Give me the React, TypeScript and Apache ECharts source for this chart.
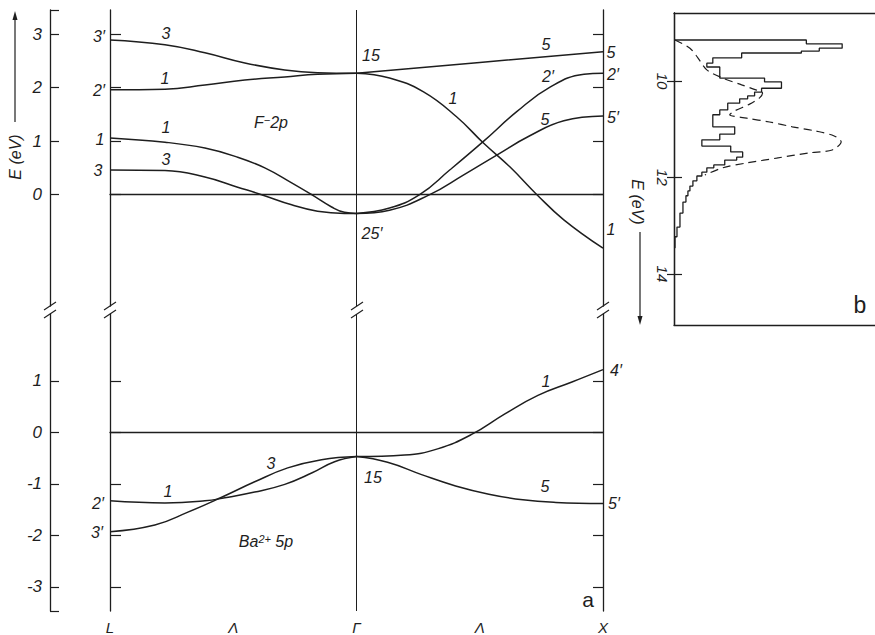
import React, { useEffect, useRef } from "react";
import * as echarts from "echarts";

// ---- axis ticks / labels ----
const kTicks = [0, 0.5, 1, 1.5, 2];
const kNames = ["L", "Λ", "Γ", "Λ", "X"];
const upperTicks = [0, 1, 2, 3];
const lowerTicks = [-3, -2, -1, 0, 1];
const specTicks = [10, 12, 14];

// ---- F- 2p bands (upper panel), k: L=0, Γ=1, X=2 ; E in eV ----
const bandA_k = [0, 0.223, 0.385, 0.547, 0.709, 0.842, 1];
const bandA_E = [2.89, 2.8, 2.65, 2.46, 2.33, 2.28, 2.27];
const bandB_k = [0, 0.223, 0.385, 0.547, 0.709, 0.842, 1];
const bandB_E = [1.96, 1.97, 2.05, 2.14, 2.2, 2.25, 2.27];
const bandC_k = [0, 0.223, 0.385, 0.518, 0.628, 0.737, 0.818, 0.899, 0.951, 1];
const bandC_E = [1.06, 0.98, 0.87, 0.7, 0.5, 0.22, 0.0, -0.23, -0.33, -0.35];
const bandD_k = [0, 0.223, 0.385, 0.518, 0.615, 0.737, 0.842, 0.951, 1];
const bandD_E = [0.46, 0.45, 0.33, 0.14, 0.0, -0.19, -0.31, -0.35, -0.35];
const bandE_k = [1, 1.5, 2];
const bandE_E = [2.27, 2.47, 2.67];
const bandF_k = [1, 1.134, 1.272, 1.407, 1.516, 1.622, 1.732, 1.841, 2];
const bandF_E = [2.27, 2.18, 1.92, 1.45, 0.96, 0.52, 0.0, -0.47, -1.0];
const bandG_k = [1, 1.134, 1.256, 1.378, 1.516, 1.65, 1.785, 1.923, 2];
const bandG_E = [-0.35, -0.25, 0.0, 0.46, 1.0, 1.55, 2.01, 2.25, 2.27];
const bandH_k = [1, 1.134, 1.297, 1.435, 1.569, 1.703, 1.841, 2];
const bandH_E = [-0.35, -0.29, 0.0, 0.37, 0.74, 1.1, 1.38, 1.47];

// ---- Ba2+ 5p bands (lower panel) ----
const bandI_k = [0, 0.223, 0.385, 0.466, 0.587, 0.709, 0.818, 0.911, 1];
const bandI_E = [-1.33, -1.37, -1.33, -1.27, -1.16, -1.01, -0.79, -0.57, -0.47];
const bandJ_k = [0, 0.182, 0.316, 0.453, 0.587, 0.721, 0.858, 1];
const bandJ_E = [-1.93, -1.8, -1.55, -1.26, -0.96, -0.69, -0.53, -0.47];
const bandK_k = [1, 1.195, 1.329, 1.467, 1.602, 1.736, 1.874, 2];
const bandK_E = [-0.47, -0.44, -0.32, -0.04, 0.36, 0.72, 0.98, 1.22];
const bandL_k = [1, 1.126, 1.264, 1.402, 1.537, 1.675, 1.809, 2];
const bandL_E = [-0.47, -0.58, -0.82, -1.04, -1.2, -1.31, -1.36, -1.38];

// ---- panel b: histogram (bin edges in eV, intensities) ----
const histEdges = [9.15, 9.23, 9.32, 9.38, 9.42, 9.52, 9.63, 9.71, 9.94, 10.02, 10.15, 10.23, 10.31, 10.37, 10.46, 10.6, 10.7, 10.81, 10.95, 11.1, 11.22, 11.35, 11.47, 11.58, 11.64, 11.74, 11.8, 11.89, 11.97, 12.07, 12.18, 12.28, 12.38, 12.51, 12.74, 13.03, 13.23, 13.46];
const histCounts = [1.33, 1.69, 1.46, 1.28, 0.68, 0.39, 0.33, 0.46, 0.91, 1.08, 0.88, 0.81, 0.74, 0.66, 0.54, 0.46, 0.39, 0.39, 0.61, 0.46, 0.28, 0.57, 0.69, 0.63, 0.51, 0.4, 0.33, 0.28, 0.23, 0.19, 0.16, 0.14, 0.12, 0.09, 0.06, 0.03, 0.01];
// dashed calculated curve
const dashI = [0.01, 0.16, 0.24, 0.33, 0.49, 0.68, 0.83, 0.89, 0.86, 0.76, 0.61, 0.56, 0.73, 0.96, 1.19, 1.43, 1.61, 1.68, 1.59, 1.36, 1.03, 0.73, 0.49, 0.31];
const dashE = [9.15, 9.32, 9.52, 9.77, 9.94, 10.08, 10.19, 10.25, 10.35, 10.48, 10.62, 10.7, 10.77, 10.85, 10.95, 11.04, 11.14, 11.26, 11.43, 11.49, 11.6, 11.7, 11.8, 11.95];

const FONT = "'Liberation Sans Narrow', 'Liberation Sans', 'DejaVu Sans', sans-serif";
const INK = "#1e1e1e";

const pts = (k: number[], e: number[]) => k.map((v, i) => [v, e[i]]);

function histPoints() {
  const out: number[][] = [[0, histEdges[0]]];
  histCounts.forEach((c, i) => {
    out.push([c, histEdges[i]]);
    out.push([c, histEdges[i + 1]]);
  });
  out.push([0, histEdges[histEdges.length - 1]]);
  return out;
}

const fnt = (size: number, italic = true) => `${italic ? "italic" : "normal"} ${size}px ${FONT}`;

const txt = (text: string, x: number, y: number, size = 16, extra: any = {}) => ({
  type: "text",
  x,
  y,
  silent: true,
  rotation: extra.rotation || 0,
  style: {
    text,
    fill: INK,
    font: fnt(size, extra.italic !== false),
    textAlign: "center",
    textVerticalAlign: "middle",
    ...(extra.rich ? { rich: extra.rich } : {}),
  },
});

const supRich = {
  m: { font: fnt(16), fill: INK, verticalAlign: "bottom" },
  s: { font: fnt(11), fill: INK, verticalAlign: "top" },
};

const ln = (x1: number, y1: number, x2: number, y2: number, w = 1.2) => ({
  type: "line",
  silent: true,
  shape: { x1, y1, x2, y2 },
  style: { stroke: INK, lineWidth: w },
});

export default function App() {
  const ref = useRef<HTMLDivElement>(null);
  useEffect(() => {
    if (!ref.current) return;
    const chart = echarts.init(ref.current, null, { renderer: "svg" });

    const bandStyle = { color: INK, width: 1.5 };
    const band = (k: number[], e: number[], lower: boolean, smooth: number | boolean = 0.45) => ({
      type: "line",
      xAxisIndex: lower ? 1 : 0,
      yAxisIndex: lower ? 3 : 0,
      data: pts(k, e),
      smooth,
      symbol: "none",
      silent: true,
      lineStyle: bandStyle,
    });
    const refLines = {
      silent: true,
      symbol: ["none", "none"],
      label: { show: false },
      lineStyle: { color: INK, width: 1, type: "solid" },
      data: [{ xAxis: 1 }, { yAxis: 0 }],
    };

    const axisLine = { show: true, lineStyle: { color: INK, width: 1.3 } };
    const labelFont = { fontFamily: FONT, fontStyle: "italic", fontSize: 17, color: INK };

    const UMIN = -2.08, UMAX = 3.45, LMIN = -3.47, LMAX = 2.3;

    const breaks: any[] = [];
    [50, 110, 357, 603].forEach((x0) => {
      [306, 314].forEach((y0) => breaks.push(ln(x0 - 6, y0 + 4, x0 + 6, y0 - 4, 1.2)));
    });

    const option: any = {
      animation: false,
      backgroundColor: "#ffffff",
      grid: [
        { left: 110, top: 10, width: 493, height: 296 },
        { left: 110, top: 314, width: 493, height: 298 },
        { left: 674, top: 13, width: 202, height: 312 },
      ],
      xAxis: [
        { gridIndex: 0, type: "value", min: 0, max: 2, position: "top", axisLine, axisTick: { show: false }, axisLabel: { show: false }, splitLine: { show: false } },
        {
          gridIndex: 1, type: "value", min: 0, max: 2, position: "bottom", axisLine,
          axisTick: { show: false }, splitLine: { show: false },
          axisLabel: {
            customValues: kTicks, margin: 9, ...labelFont, fontSize: 15,
            formatter: (v: number) => kNames[kTicks.indexOf(v)] ?? "",
          },
        },
        { gridIndex: 2, type: "value", min: 0, max: 2.02, position: "top", axisLine, axisTick: { show: false }, axisLabel: { show: false }, splitLine: { show: false } },
        { gridIndex: 2, type: "value", min: 0, max: 2.02, position: "bottom", axisLine, axisTick: { show: false }, axisLabel: { show: false }, splitLine: { show: false } },
      ],
      yAxis: [
        { gridIndex: 0, type: "value", min: UMIN, max: UMAX, position: "left", axisLine, splitLine: { show: false }, axisLabel: { show: false }, axisTick: { inside: true, length: 11, customValues: upperTicks, lineStyle: { color: INK, width: 1.2 } } },
        { gridIndex: 0, type: "value", min: UMIN, max: UMAX, position: "right", axisLine, splitLine: { show: false }, axisLabel: { show: false }, axisTick: { inside: true, length: 10, customValues: upperTicks, lineStyle: { color: INK, width: 1.2 } } },
        { gridIndex: 0, type: "value", min: UMIN, max: UMAX, position: "left", offset: 60, axisLine, splitLine: { show: false },
          axisTick: { inside: true, length: 9, customValues: [...upperTicks, UMAX], lineStyle: { color: INK, width: 1.2 } },
          axisLabel: { customValues: upperTicks, margin: 8, ...labelFont } },
        { gridIndex: 1, type: "value", min: LMIN, max: LMAX, position: "left", axisLine, splitLine: { show: false }, axisLabel: { show: false }, axisTick: { inside: true, length: 11, customValues: lowerTicks, lineStyle: { color: INK, width: 1.2 } } },
        { gridIndex: 1, type: "value", min: LMIN, max: LMAX, position: "right", axisLine, splitLine: { show: false }, axisLabel: { show: false }, axisTick: { inside: true, length: 10, customValues: lowerTicks, lineStyle: { color: INK, width: 1.2 } } },
        { gridIndex: 1, type: "value", min: LMIN, max: LMAX, position: "left", offset: 60, axisLine, splitLine: { show: false },
          axisTick: { inside: true, length: 9, customValues: [...lowerTicks, LMIN], lineStyle: { color: INK, width: 1.2 } },
          axisLabel: { customValues: lowerTicks, margin: 8, ...labelFont } },
        { gridIndex: 2, type: "value", inverse: true, min: 8.59, max: 15.06, position: "left", axisLine, splitLine: { show: false },
          axisTick: { inside: true, length: 8, customValues: specTicks, lineStyle: { color: INK, width: 1.2 } },
          axisLabel: { customValues: specTicks, rotate: -90, margin: 4, ...labelFont, fontSize: 15 } },
        { gridIndex: 2, type: "value", inverse: true, min: 8.59, max: 15.06, position: "right", axisLine, splitLine: { show: false }, axisLabel: { show: false },
          axisTick: { inside: true, length: 7, customValues: specTicks, lineStyle: { color: INK, width: 1.2 } } },
      ],
      series: [
        { ...band(bandA_k, bandA_E, false), markLine: refLines },
        band(bandB_k, bandB_E, false),
        band(bandC_k, bandC_E, false),
        band(bandD_k, bandD_E, false),
        band(bandE_k, bandE_E, false, false),
        band(bandF_k, bandF_E, false),
        band(bandG_k, bandG_E, false),
        band(bandH_k, bandH_E, false),
        { ...band(bandI_k, bandI_E, true), markLine: refLines },
        band(bandJ_k, bandJ_E, true),
        band(bandK_k, bandK_E, true),
        band(bandL_k, bandL_E, true),
        {
          type: "line", xAxisIndex: 3, yAxisIndex: 6, data: histPoints(), symbol: "none", silent: true,
          lineStyle: { color: INK, width: 1.3 },
        },
        {
          type: "line", xAxisIndex: 3, yAxisIndex: 6, data: pts(dashI, dashE), symbol: "none", silent: true, smooth: 0.3,
          lineStyle: { color: INK, width: 1.2, type: [8, 5] },
        },
      ],
      graphic: [
        txt("E (eV)", 15, 157, 16, { rotation: Math.PI / 2 }),
        ln(15, 122, 15, 18, 1.2),
        { type: "polygon", silent: true, shape: { points: [[15, 11], [12.5, 20], [17.5, 20]] }, style: { fill: INK } },
        txt("E (eV)", 637, 202, 16, { rotation: -Math.PI / 2 }),
        ln(640, 232, 640, 318, 1.2),
        { type: "polygon", silent: true, shape: { points: [[640, 325], [637.5, 316], [642.5, 316]] }, style: { fill: INK } },
        ...breaks,
        txt("3′", 99, 36), txt("2′", 99, 90), txt("1", 100, 139), txt("3", 98, 170),
        txt("3", 166, 33), txt("1", 165, 78), txt("1", 166, 127), txt("3", 166, 159),
        txt("{m|F}{s|−}{m|2p}", 271, 122, 16, { rich: supRich }),
        txt("15", 371, 55), txt("5", 546, 44), txt("2′", 548, 76), txt("1", 453, 98), txt("5", 545, 119),
        txt("25′", 372, 233),
        txt("5", 611, 52), txt("2′", 613, 74), txt("5′", 613, 117), txt("1", 611, 229),
        txt("2′", 98, 503), txt("3′", 97, 532),
        txt("1", 168, 491), txt("3", 271, 463), txt("15", 373, 477),
        txt("{m|Ba}{s|2+}{m| 5p}", 266, 541, 16, { rich: supRich }),
        txt("1", 546, 381), txt("5", 545, 486),
        txt("4′", 616, 370), txt("5′", 614, 503),
        txt("a", 588, 599, 21, { italic: false }),
        txt("b", 860, 305, 23, { italic: false }),
      ],
    };

    chart.setOption(option);
    return () => chart.dispose();
  }, []);

  return (
    <div
      ref={ref}
      style={{ position: "absolute", left: 0, top: 0, width: 875, height: 635, background: "#fff" }}
    />
  );
}
